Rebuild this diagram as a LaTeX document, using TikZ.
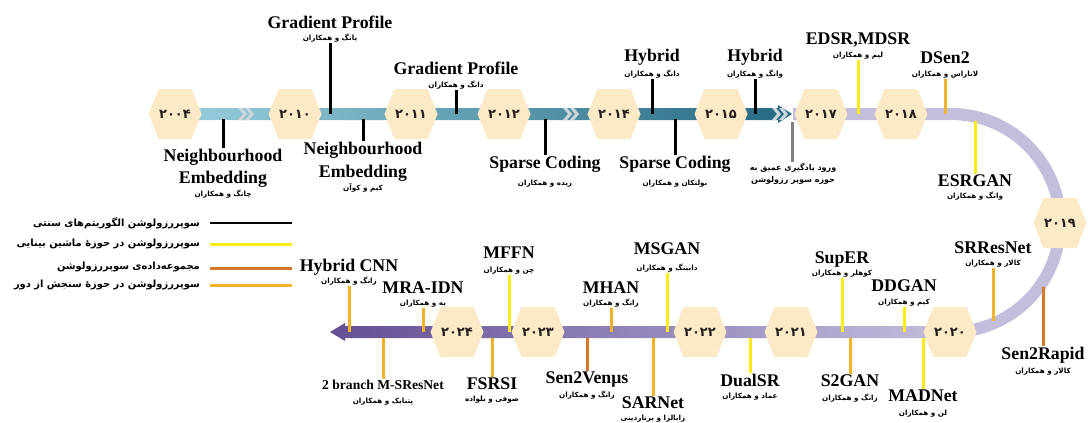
\documentclass[tikz,border=0pt]{standalone}
\usepackage{fontspec}
\setmainfont{Liberation Serif}
\newfontfamily\fa[Script=Arabic]{DejaVu Sans}
\TeXXeTstate=1
\usetikzlibrary{calc}

\definecolor{hexfill}{RGB}{252,234,198}
\definecolor{tealL}{RGB}{152,207,221}
\definecolor{tealD}{RGB}{36,104,130}
\definecolor{lav}{RGB}{196,190,221}
\definecolor{purM}{RGB}{160,148,198}
\definecolor{purD}{RGB}{98,78,148}
\definecolor{cvyel}{RGB}{250,236,22}
\definecolor{rsgold}{RGB}{240,180,44}
\definecolor{dsorng}{RGB}{214,120,44}
\definecolor{chevgray}{RGB}{205,214,219}
\definecolor{notegray}{RGB}{128,128,128}
\definecolor{yeartext}{RGB}{35,30,30}

\tikzset{
  lab/.style={font=\bfseries\fontsize{17.8}{18}\selectfont, inner sep=0pt},
  per/.style={font=\fa\bfseries\fontsize{7.2}{8}\selectfont, inner sep=1pt},
  tick/.style={line width=3pt},
  yr/.style={font=\fa\bfseries\fontsize{13}{13}\selectfont, text=yeartext, inner sep=0pt},
  hex/.style={fill=hexfill},
  legtext/.style={font=\fa\bfseries\fontsize{9.9}{11}\selectfont, inner sep=0pt},
  note/.style={font=\fa\bfseries\fontsize{8}{12}\selectfont, inner sep=1pt, align=center},
  chev/.style={fill=chevgray},
}

% year hexagon: name, centre, label
\newcommand\yearhex[3]{%
  \fill[hex, shift={#2}] (-26.5,0) -- (-16.5,-25) -- (16.5,-25) -- (26.5,0)
        -- (16.5,25) -- (-16.5,25) -- cycle;
  \node[yr] (#1) at #2 {#3};}

% milestone above the band: name, x, band y, latin baseline, persian baseline, colour, title, authors
\newcommand\abovemark[8]{%
  \coordinate (#1b) at (#2,#3);
  \node[lab, anchor=base] (#1) at (#2,#4) {#7};
  \node[per, anchor=base] (#1p) at (#2,#5) {#8};
  \draw[tick, #6] (#1b) -- (#1b |- #1p.south);}

% milestone below the band
\newcommand\belowmark[8]{%
  \coordinate (#1b) at (#2,#3);
  \node[lab, anchor=base] (#1) at (#2,#4) {#7};
  \node[per, anchor=base] (#1p) at (#2,#5) {#8};
  \draw[tick, #6] (#1b) -- (#1b |- #1.north);}

% double chevron on the band
\newcommand\chevpair[1]{%
  \fill[chev, shift={(#1,114)}] (0,-6) -- (4,-6) -- (9,0) -- (4,6) -- (0,6) -- (5,0) -- cycle;
  \fill[chev, shift={(#1+7,114)}] (0,-6) -- (4,-6) -- (9,0) -- (4,6) -- (0,6) -- (5,0) -- cycle;}

\begin{document}
\begin{tikzpicture}[x=1pt,y=-1pt]
\useasboundingbox (0,0) rectangle (1088,423);

% ---- bands ----
\shade[left color=tealL, right color=tealD]
  (175,108) -- (778,108) -- (778,105) -- (792,114) -- (778,123) -- (778,120) -- (175,120) -- cycle;
\draw[lav, line width=12pt] (793,114) -- (951,114) arc[start angle=-90, end angle=90, radius=109];
\shade[left color=purD, middle color=purM, right color=lav]
  (952,326) -- (345,326) -- (345,323) -- (330,332) -- (345,341) -- (345,338) -- (952,338) -- cycle;

\chevpair{238}
\chevpair{563}
\chevpair{772}

% ---- classical methods ----
\coordinate (ne1b) at (223,119);
\node[lab, anchor=base] (ne1) at (223,161) {Neighbourhood};
\node[lab, anchor=base] (ne1e) at (223,183) {Embedding};
\node[per, anchor=base] (ne1p) at (223,196) {\beginR چانگ و همکاران\endR};
\draw[tick] (ne1b) -- (ne1b |- ne1.north);

\coordinate (ne2b) at (363,119);
\node[lab, anchor=base] (ne2) at (363,154) {Neighbourhood};
\node[lab, anchor=base] (ne2e) at (363,177) {Embedding};
\node[per, anchor=base] (ne2p) at (363,190) {\beginR کیم و کوآن\endR};
\draw[tick] (ne2b) -- (ne2b |- ne2.north);

\abovemark{gp1}{330}{114}{28}{40}{black}{Gradient Profile}{\beginR یانگ و همکاران\endR}
\abovemark{gp2}{456}{114}{74}{87}{black}{Gradient Profile}{\beginR دانگ و همکاران\endR}
\belowmark{sc1}{545}{119}{168}{185}{black}{Sparse Coding}{\beginR زیده و همکاران\endR}
\abovemark{hy1}{652}{114}{61}{76}{black}{Hybrid}{\beginR دانگ و همکاران\endR}
\belowmark{sc2}{675}{119}{168}{185}{black}{Sparse Coding}{\beginR بولتکان و همکاران\endR}
\abovemark{hy2}{755}{114}{61}{76}{black}{Hybrid}{\beginR وانگ و همکاران\endR}

% ---- arrival of deep learning ----
\coordinate (dlb) at (792,122);
\node[note, anchor=north] (dl) at (793,162) {\beginR ورود یادگیری عمیق به\endR\\\beginR حوزه سوپر رزولوشن\endR};
\draw[tick, notegray] (dlb) -- (dlb |- dl.north);

% ---- learning-based methods ----
\abovemark{edsr}{858}{114}{44}{57}{cvyel}{EDSR,MDSR}{\beginR لیم و همکاران\endR}
\abovemark{dsen}{945}{114}{63}{76}{rsgold}{DSen2}{\beginR لاناراس و همکاران\endR}
\belowmark{esr}{975}{121}{186}{198}{cvyel}{ESRGAN}{\beginR وانگ و همکاران\endR}
\abovemark{srres}{993}{321}{253}{265}{rsgold}{SRResNet}{\beginR کالار و همکاران\endR}
\belowmark{s2r}{1043}{287}{359}{373}{dsorng}{Sen2Rapid}{\beginR کالار و همکاران\endR}
\abovemark{ddgan}{904}{332}{291}{304}{cvyel}{DDGAN}{\beginR کیم و همکاران\endR}
\belowmark{madnet}{923}{338}{401}{415}{cvyel}{MADNet}{\beginR لن و همکاران\endR}
\abovemark{super}{842}{332}{263}{275}{cvyel}{SupER}{\beginR کوهلر و همکاران\endR}
\belowmark{s2gan}{850}{338}{386}{400}{rsgold}{S2GAN}{\beginR زانگ و همکاران\endR}
\belowmark{dualsr}{750}{338}{386}{398}{cvyel}{DualSR}{\beginR عماد و همکاران\endR}
\abovemark{msgan}{667}{332}{254}{270}{cvyel}{MSGAN}{\beginR دابینگ و همکاران\endR}
\belowmark{sarnet}{653}{338}{408}{420}{rsgold}{SARNet}{\beginR زابالزا و برناردینی\endR}
\abovemark{mhan}{611}{332}{293}{305}{rsgold}{MHAN}{\beginR زانگ و همکاران\endR}
\belowmark{venus}{587}{338}{383}{397}{dsorng}{Sen2Venμs}{\beginR زانگ و همکاران\endR}
\abovemark{mffn}{509}{332}{258}{272}{cvyel}{MFFN}{\beginR چن و همکاران\endR}
\belowmark{fsrsi}{492}{338}{389}{401}{rsgold}{FSRSI}{\beginR صوفی و بلواده\endR}
\abovemark{mra}{423}{332}{293}{305}{rsgold}{MRA-IDN}{\beginR یه و همکاران\endR}
\abovemark{hcnn}{349}{332}{271}{283}{rsgold}{Hybrid CNN}{\beginR زانگ و همکاران\endR}
\belowmark{mres}{383}{338}{389}{403}{rsgold}{{\fontsize{13.6}{14}\selectfont 2 branch M-SResNet}}{\beginR پتنایک و همکاران\endR}

% ---- years ----
\yearhex{y2004}{(175,114)}{۲۰۰۴}
\yearhex{y2010}{(295,114)}{۲۰۱۰}
\yearhex{y2011}{(411,114)}{۲۰۱۱}
\yearhex{y2012}{(504,114)}{۲۰۱۲}
\yearhex{y2014}{(614,114)}{۲۰۱۴}
\yearhex{y2015}{(721,114)}{۲۰۱۵}
\yearhex{y2017}{(821,114)}{۲۰۱۷}
\yearhex{y2018}{(901,114)}{۲۰۱۸}
\yearhex{y2019}{(1060,223)}{۲۰۱۹}
\yearhex{y2020}{(950,332)}{۲۰۲۰}
\yearhex{y2021}{(791,332)}{۲۰۲۱}
\yearhex{y2022}{(700,332)}{۲۰۲۲}
\yearhex{y2023}{(538,332)}{۲۰۲۳}
\yearhex{y2024}{(457,332)}{۲۰۲۴}

% ---- legend ----
\node[legtext, anchor=east] (lg1) at (200,223) {\beginR سوپررزولوشن  الگوریتم‌های سنتی\endR};
\node[legtext, anchor=east] (lg2) at (200,244) {\beginR سوپررزولوشن در حوزهٔ ماشین بینایی\endR};
\node[legtext, anchor=east] (lg3) at (200,267) {\beginR مجموعه‌داده‌ی سوپررزولوشن\endR};
\node[legtext, anchor=east] (lg4) at (200,285) {\beginR سوپررزولوشن در حوزهٔ سنجش از دور\endR};
\coordinate (lg1a) at (210,223); \coordinate (lg1z) at (292,223);
\coordinate (lg2a) at (210,244); \coordinate (lg2z) at (292,244);
\coordinate (lg3a) at (210,268); \coordinate (lg3z) at (292,268);
\coordinate (lg4a) at (210,285); \coordinate (lg4z) at (292,285);
\draw[line width=2.5pt, black] (lg1a) -- (lg1z);
\draw[tick, cvyel] (lg2a) -- (lg2z);
\draw[tick, dsorng] (lg3a) -- (lg3z);
\draw[tick, rsgold] (lg4a) -- (lg4z);
\end{tikzpicture}
\end{document}
